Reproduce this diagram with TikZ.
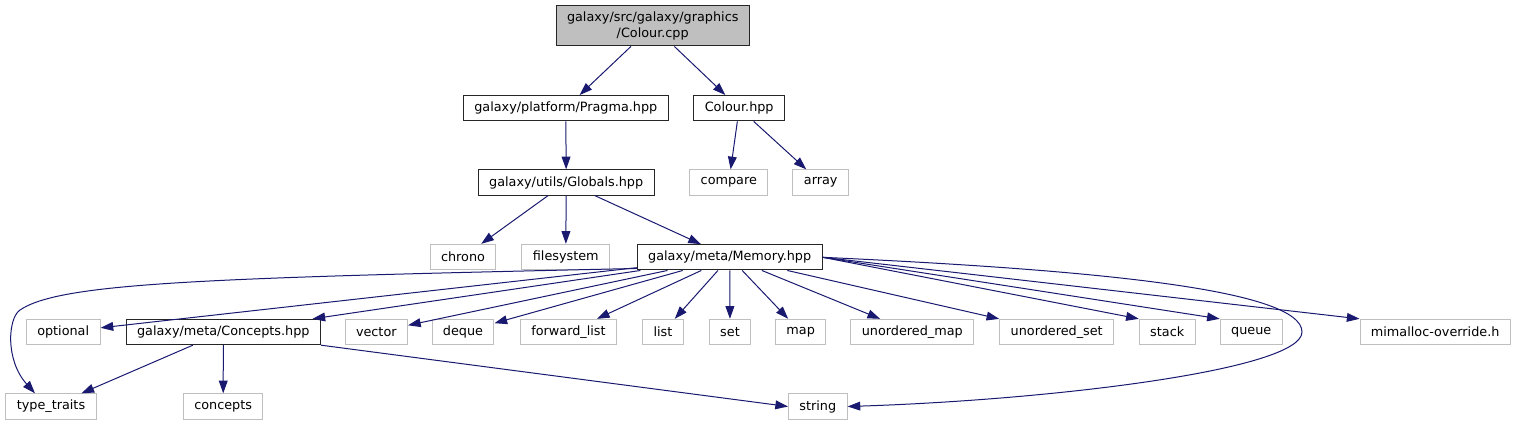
\documentclass[tikz,border=0pt]{standalone}
\usepackage{fontspec}
\setmainfont{DejaVu Sans}
\usepackage{xcolor}
\usetikzlibrary{arrows.meta,calc}

\definecolor{edgeblue}{HTML}{191970}
\definecolor{sysgray}{HTML}{BFBFBF}

\begin{document}
\begin{tikzpicture}[
    x=0.75pt, y=-0.75pt,
    hdr/.style={rectangle, draw=black!85, line width=0.75pt, minimum height=19pt, inner xsep=8.2pt, inner ysep=0pt, font=\fontsize{9.6}{12}\selectfont},
    sys/.style={hdr, draw=sysgray},
    root/.style={hdr, fill=sysgray, minimum height=30.2pt, align=center},
    arrow/.style={-{Triangle[length=9.5pt,width=6.6pt]}, line width=0.75pt, color=edgeblue}
]
\useasboundingbox (0,0) rectangle (1518,425);

% Top: source file and its direct includes
\node[root] (cpp) at (652.7,25.8) {galaxy/src/galaxy/graphics\\/Colour.cpp};
\node[hdr] (pragma)    at (565.8,108.2) {galaxy/platform/Pragma.hpp};
\node[hdr] (colourhpp) at (739.2,108.2) {Colour.hpp};

\node[hdr] (globals) at (566.2,182.5) {galaxy/utils/Globals.hpp};
\node[sys] (compare) at (728.8,182.5) {compare};
\node[sys] (array)   at (820.7,182.5) {array};

\node[sys] (chrono)     at (463,257)   {chrono};
\node[sys] (filesystem) at (565.8,257) {filesystem};
\node[hdr] (memory)     at (729.7,257.3) {galaxy/meta/Memory.hpp};

% Row of headers pulled in by Memory.hpp
\node[sys] (optional)    at (63.2,332)   {optional};
\node[hdr] (conceptshpp) at (223.3,332)  {galaxy/meta/Concepts.hpp};
\node[sys] (vector)      at (376.3,332)  {vector};
\node[sys] (deque)       at (463,332)    {deque};
\node[sys] (forwardlist) at (568.5,332)  {forward\_list};
\node[sys] (list)        at (663,332)    {list};
\node[sys] (set)         at (730,332)    {set};
\node[sys] (map)         at (800.7,332)  {map};
\node[sys] (umap)        at (912.3,332)  {unordered\_map};
\node[sys] (uset)        at (1056.7,332) {unordered\_set};
\node[sys] (stack)       at (1167.2,332) {stack};
\node[sys] (queue)       at (1251.2,332) {queue};
\node[sys] (mimalloc)    at (1435.2,332) {mimalloc-override.h};

% Bottom row
\node[sys] (typetraits) at (51,406.5)    {type\_traits};
\node[sys] (concepts)   at (223.2,406.5) {concepts};
\node[sys] (string)     at (817.8,406.5) {string};

\draw[arrow] (cpp) -- (pragma);
\draw[arrow] (cpp) -- (colourhpp);
\draw[arrow] (pragma) -- (globals);
\draw[arrow] (colourhpp) -- (compare);
\draw[arrow] (colourhpp) -- (array);
\draw[arrow] (globals) -- (chrono);
\draw[arrow] (globals) -- (filesystem);
\draw[arrow] (globals) -- (memory);

\draw[arrow] (memory) -- (optional);
\draw[arrow] (memory) -- (conceptshpp);
\draw[arrow] (memory) -- (vector);
\draw[arrow] (memory) -- (deque);
\draw[arrow] (memory) -- (forwardlist);
\draw[arrow] (memory) -- (list);
\draw[arrow] (memory) -- (set);
\draw[arrow] (memory) -- (map);
\draw[arrow] (memory) -- (umap);
\draw[arrow] (memory) -- (uset);
\draw[arrow] (memory.east) -- (stack.north west);
\draw[arrow] (memory.east) -- (queue.north west);
\draw[arrow] (memory.east) -- (mimalloc.north west);
\draw[arrow] ($(memory.south west)+(0,-2)$) .. controls (200,278) and (60,283) .. (20,310)
    .. controls (8,318) and (5,360) .. ($(typetraits.north)+(-16,0)$);
\draw[arrow] (memory.east) .. controls (1100,270) and (1302,290) .. (1302,332)
    .. controls (1302,370) and (1050,400) .. (string.east);

\draw[arrow] (conceptshpp) -- (typetraits);
\draw[arrow] (conceptshpp) -- (concepts);
\draw[arrow] (conceptshpp.south east) -- (string.west);

\end{tikzpicture}
\end{document}
